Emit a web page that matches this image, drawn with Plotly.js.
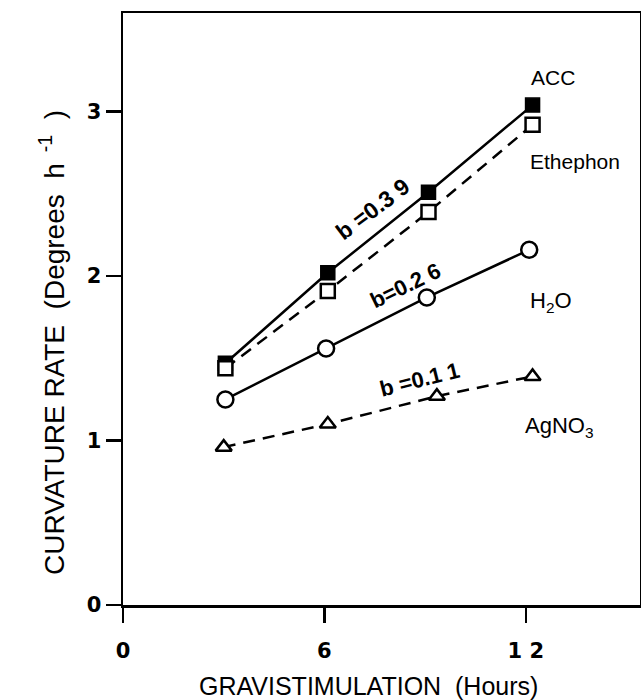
<!DOCTYPE html>
<html>
<head>
<meta charset="utf-8">
<script src="https://cdn.plot.ly/plotly-3.0.1.min.js"></script>
<style>html,body{margin:0;padding:0;background:#fff;}#chart{width:641px;height:700px;}</style>
</head>
<body>
<div id="chart"></div>
<script>
// Gravistimulation time (hours) read for each series
const hoursACC = [3.05, 6.1, 9.1, 12.2];
const hoursEthephon = [3.05, 6.1, 9.1, 12.2];
const hoursH2O = [3.05, 6.05, 9.05, 12.1];
const hoursAgNO3 = [3.0, 6.1, 9.35, 12.2];
// Curvature rate (degrees h^-1)
const rateACC = [1.47, 2.02, 2.51, 3.04];
const rateEthephon = [1.44, 1.91, 2.39, 2.92];
const rateH2O = [1.25, 1.56, 1.87, 2.16];
const rateAgNO3 = [0.96, 1.10, 1.27, 1.39];
// Axis ticks
const xTickVals = [0, 6, 12];
const xTickText = ['0', '6', '1 2'];
const yTickVals = [0, 1, 2, 3];
const yTickText = ['0', '1', '2', '3'];

const lineFont = 'Liberation Sans, Arial, sans-serif';

const traces = [
  {x: hoursACC, y: rateACC, mode: 'lines+markers', name: 'ACC',
   line: {color: '#000', width: 2.5}, marker: {symbol: 'square', size: 14, color: '#000', line: {color: '#000', width: 1.5}}},
  {x: hoursEthephon, y: rateEthephon, mode: 'lines+markers', name: 'Ethephon',
   line: {color: '#000', width: 2.5, dash: '12px,8px'}, marker: {symbol: 'square', size: 14, color: '#fff', line: {color: '#000', width: 2.5}}},
  {x: hoursH2O, y: rateH2O, mode: 'lines+markers', name: 'H2O',
   line: {color: '#000', width: 2.5}, marker: {symbol: 'circle', size: 16, color: '#fff', line: {color: '#000', width: 2.5}}},
  {x: hoursAgNO3, y: rateAgNO3, mode: 'lines+markers', name: 'AgNO3',
   line: {color: '#000', width: 2.5, dash: '12px,8px'}, marker: {symbol: 'triangle-up', size: 14, color: '#fff', line: {color: '#000', width: 2.5}}}
];

const ann = (text, x, y, size, angle, extra) => Object.assign({
  text: text, x: x, y: y, xref: 'x', yref: 'y', showarrow: false,
  textangle: angle || 0, font: {family: lineFont, size: size, color: '#000'}
}, extra || {});

const layout = {
  width: 641, height: 700,
  margin: {l: 123, r: 1, t: 13, b: 95},
  paper_bgcolor: '#fff', plot_bgcolor: '#fff',
  showlegend: false,
  font: {family: lineFont, color: '#000'},
  xaxis: {
    range: [0, 15.4], tickvals: xTickVals, ticktext: xTickText,
    showgrid: false, zeroline: false, showline: true, mirror: true, linecolor: '#000', linewidth: 2.5,
    ticks: 'outside', ticklen: 15, tickwidth: 2.5, tickcolor: '#000', ticklabelstandoff: 10,
    tickfont: {family: 'DejaVu Sans, sans-serif', size: 21, weight: 'bold', color: '#000'}
  },
  yaxis: {
    range: [0, 3.6], tickvals: yTickVals, ticktext: yTickText,
    showgrid: false, zeroline: false, showline: true, mirror: true, linecolor: '#000', linewidth: 2.5,
    ticks: 'outside', ticklen: 15, tickwidth: 2.5, tickcolor: '#000', ticklabelstandoff: 0,
    tickfont: {family: 'DejaVu Sans, sans-serif', size: 21, weight: 'bold', color: '#000'}
  },
  annotations: [
    {text: 'GRAVISTIMULATION  (Hours)', xref: 'paper', yref: 'paper', x: 0.475, y: -0.137,
     xanchor: 'center', yanchor: 'middle', showarrow: false, font: {family: lineFont, size: 25, color: '#000'}},
    {text: 'CURVATURE RATE  (Degrees  h<sup>  -1</sup>  )', xref: 'paper', yref: 'paper', x: -0.137, y: 0.443,
     xanchor: 'center', yanchor: 'middle', textangle: -90, showarrow: false, font: {family: lineFont, size: 28, color: '#000'}},
    ann('ACC', 12.8, 3.21, 21),
    ann('Ethephon', 13.45, 2.70, 21),
    ann('H<sub>2</sub>O', 12.75, 1.84, 22),
    ann('AgNO<sub>3</sub>', 13.0, 1.08, 22),
    ann('<b>b =0.3 9</b>', 7.44, 2.41, 23, -37),
    ann('<b>b=0.2 6</b>', 8.42, 1.94, 22, -26),
    ann('<b>b =0.1 1</b>', 8.84, 1.37, 22, -14)
  ]
};

Plotly.newPlot('chart', traces, layout, {staticPlot: true, displayModeBar: false});
</script>
</body>
</html>
